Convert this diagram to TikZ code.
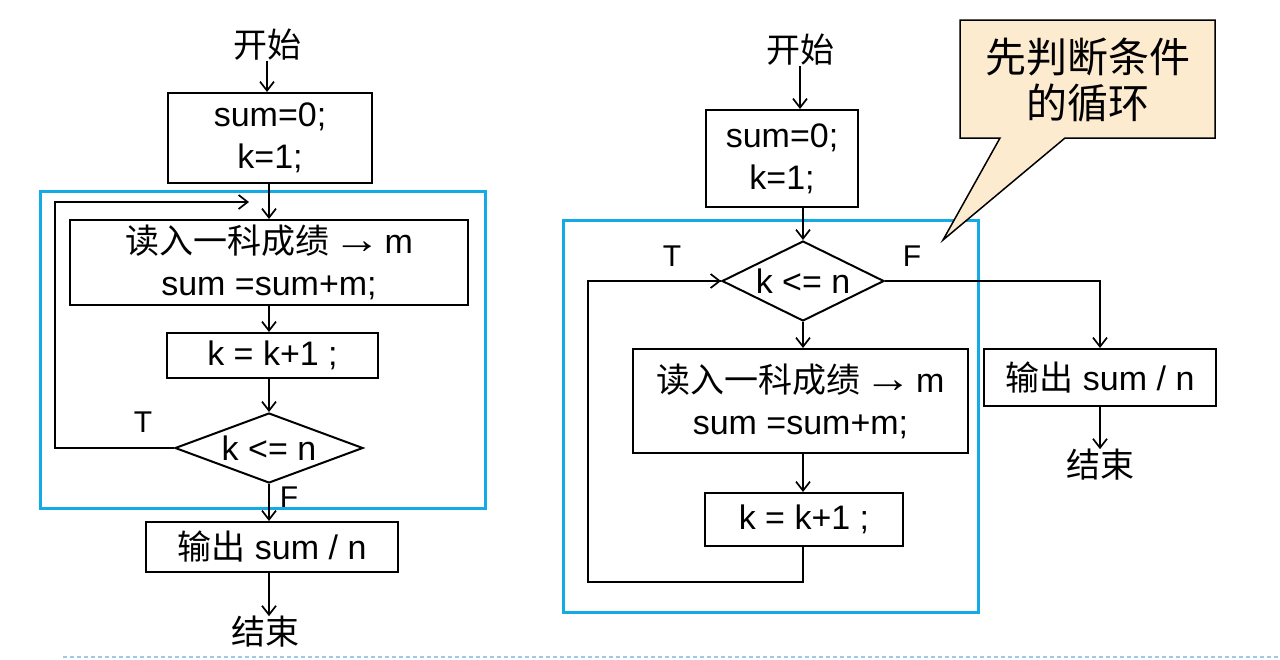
\documentclass[tikz,border=0pt]{standalone}
\usepackage{fontspec}
\setmainfont{Liberation Sans}
\newfontfamily\cjk{Noto Sans CJK SC}
\usetikzlibrary{arrows.meta,shapes.geometric}
\newcommand\zh[1]{{\cjk #1}}
\newcommand\toarr{\hspace{4pt}\scalebox{1.4}[1.2]{→}\hspace{4pt}}
\definecolor{loopblue}{RGB}{20,170,230}
\definecolor{callfill}{RGB}{253,235,208}
\definecolor{dashblue}{RGB}{160,200,235}
\begin{document}
\begin{tikzpicture}[x=1pt,y=-1pt,
  every node/.style={font=\fontsize{34}{42}\selectfont},
  box/.style={draw, line width=2pt, inner sep=0pt, align=center},
  dec/.style={draw, diamond, line width=2pt, inner sep=0pt, aspect=2.6, minimum width=188pt, minimum height=70pt},
  term/.style={inner sep=0pt},
  lbl/.style={inner sep=0pt, font=\fontsize{30}{36}\selectfont},
  arr/.style={line width=2pt, -{Straight Barb[length=9pt,width=14pt,line width=1.7pt]}},
  ln/.style={line width=2pt},
  loopbox/.style={draw=loopblue, line width=3pt}
]
\useasboundingbox (0,0) rectangle (1280,659);
% ---------- left flowchart ----------
\draw[loopbox] (40,191) rectangle (485,508);
\node[term] (ls) at (267,45) {\zh{开始}};
\node[box, minimum width=204pt, minimum height=90pt] (l1) at (270,138) {sum=0;\\k=1;};
\node[box, minimum width=398pt, minimum height=85pt] (l2) at (269,262.5) {\zh{读入一科成绩}\toarr m\\sum =sum+m;};
\node[box, minimum width=211pt, minimum height=45pt] (l3) at (272.5,355.5) {k = k+1 ;};
\node[dec] (ld) at (269,448) {k <= n};
\node[box, minimum width=252pt, minimum height=50pt] (l4) at (272,547) {\zh{输出} sum / n};
\node[term] (le) at (265,632) {\zh{结束}};
\node[lbl] (lT) at (143,422) {T};
\node[lbl] (lF) at (289,497) {F};
\coordinate (lc) at (55,202);
\coordinate (lcend) at (249,202);
\draw[arr] (ls.south) -- (ls.south |- l1.north);
\draw[ln] (l1.south -| ld.north) -- (ld.north |- lcend);
\draw[arr] (ld.north |- lcend) -- (ld.north |- l2.north);
\draw[arr] (ld.north |- l2.south) -- (ld.north |- l3.north);
\draw[arr] (ld.north |- l3.south) -- (ld.north);
\draw[arr] (ld.south) -- (ld.south |- l4.north);
\draw[arr] (ld.south |- l4.south) -- (ld.south |- le.north);
\draw[arr] (ld.west) -| (lc) -- (lcend);
% ---------- right flowchart ----------
\draw[loopbox] (563,220) rectangle (978,612);
\node[term] (rs) at (800,50) {\zh{开始}};
\node[box, minimum width=152pt, minimum height=97pt] (r1) at (782,158.5) {sum=0;\\k=1;};
\node[dec, minimum width=162pt, minimum height=80pt, aspect=2.0] (rd) at (803,281) {k <= n};
\node[box, minimum width=335pt, minimum height=104pt] (r2) at (800.5,401) {\zh{读入一科成绩}\toarr m\\sum =sum+m;};
\node[box, minimum width=198pt, minimum height=53pt] (r3) at (804,519.5) {k = k+1 ;};
\node[box, minimum width=232pt, minimum height=57pt] (r5) at (1100,377.5) {\zh{输出} sum / n};
\node[term] (re) at (1100,465) {\zh{结束}};
\node[lbl] (rT) at (672,256) {T};
\node[lbl] (rF) at (912,256) {F};
\coordinate (rl) at (588,582);
\draw[arr] (rs.south) -- (rs.south |- r1.north);
\draw[arr] (rd.north |- r1.south) -- (rd.north);
\draw[arr] (rd.south) -- (rd.south |- r2.north);
\draw[arr] (rd.south |- r2.south) -- (rd.south |- r3.north);
\draw[ln] (rd.south |- r3.south) |- (rl) |- (rd.west);
\draw[arr] (rl |- rd.west) -- (rd.west);
\draw[arr] (rd.east) -| (r5.north);
\draw[arr] (r5.south) -- (re.north);
% ---------- callout ----------
\draw[line width=1.5pt, fill=callfill] (960,20) -- (1215,20) -- (1215,138) -- (1065,138) -- (943,240) -- (1000,138) -- (960,138) -- cycle;
\node[align=center, inner sep=0pt, font=\fontsize{41}{46}\selectfont\cjk] (co) at (1088,80) {先判断条件\\的循环};
% ---------- bottom dashed rule ----------
\coordinate (dl) at (63,657);
\coordinate (dr) at (1280,657);
\draw[dashblue, line width=1.5pt, dash pattern=on 4pt off 3pt] (dl) -- (dr);
\end{tikzpicture}
\end{document}
